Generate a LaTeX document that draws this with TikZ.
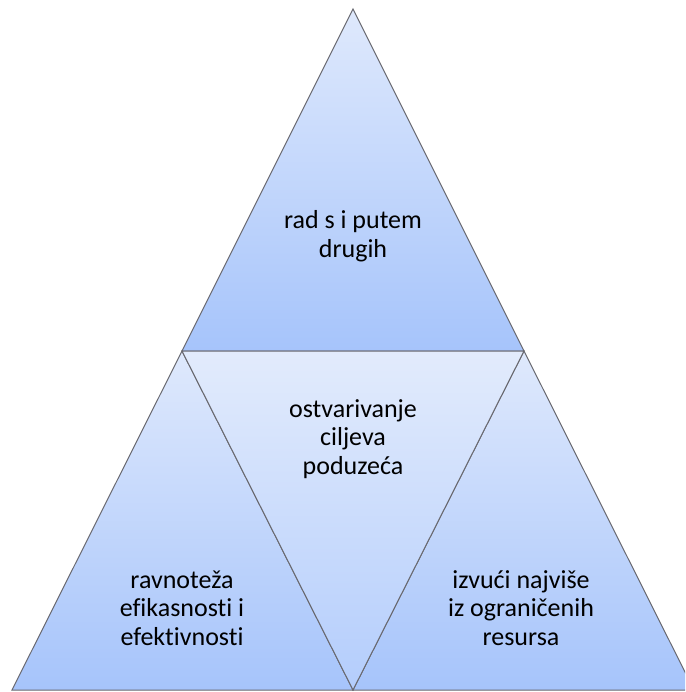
\documentclass[tikz,border=0pt]{standalone}
\usepackage{fontspec}
\setmainfont{Carlito}[Ligatures=NoCommon]
\usepackage{tikz}

\definecolor{triLight}{RGB}{223,233,252}
\definecolor{triDark}{RGB}{166,196,251}
\definecolor{triEdge}{RGB}{105,105,112}

\tikzset{
  tri/.style={draw=triEdge, line width=1pt, line join=miter,
    top color=triLight, bottom color=triDark},
  lbl/.style={align=center, font=\fontsize{26}{28.5}\selectfont, text=black}
}

\begin{document}
\begin{tikzpicture}[x=1pt, y=-1pt]
        \useasboundingbox (0,0) rectangle (685,692);
        \clip (0,0) rectangle (685,692);
        % corners of the four triangles
        \coordinate (top) at (353,9);
        \coordinate (midL) at (182,351);
        \coordinate (midR) at (524,351);
        \coordinate (botL) at (12,690);
        \coordinate (botM) at (353,690);
        \coordinate (botR) at (694,690);
        % triangles
        \path[tri] (top) -- (midR) -- (midL) -- cycle;
        \path[tri] (midL) -- (botM) -- (botL) -- cycle;
        \path[tri] (midR) -- (botR) -- (botM) -- cycle;
        \path[tri, top color=triLight!90!white, bottom color=triDark!85!white] (midL) -- (midR) -- (botM) -- cycle;
        % labels
        \node[lbl] (drugi) at (353,236) {rad s i putem\\drugih};
        \node[lbl] (ciljevi) at (353,439) {ostvarivanje\\ciljeva\\poduzeća};
        \node[lbl] (ravnoteza) at (182,608) {ravnoteža\\efikasnosti i\\efektivnosti};
        \node[lbl] (resursi) at (521,608) {izvući najviše\\iz ograničenih\\resursa};
    \end{tikzpicture}
\end{document}
